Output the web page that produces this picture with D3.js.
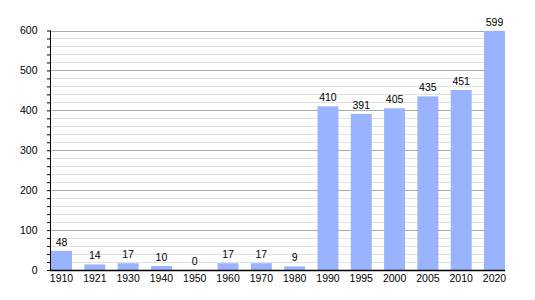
<!DOCTYPE html>
<html><head><meta charset="utf-8">
<script src="https://cdn.jsdelivr.net/npm/d3@7"></script>
<style>body{margin:0;background:#fff}svg{display:block}text{font-family:"Liberation Sans",Arial,sans-serif;fill:#000}</style>
</head><body><svg width="535" height="300"></svg>
<script>
const years = ["1910","1921","1930","1940","1950","1960","1970","1980","1990","1995","2000","2005","2010","2020"];
const population = [48,14,17,10,0,17,17,9,410,391,405,435,451,599];
const yTicks = [0,100,200,300,400,500,600];

(function(){
const svg = d3.select("svg");
const mL = 50, mR = 505, mT = 30.5, mB = 270;
const x = d3.scaleBand().domain(years).range([mL+1, mR]).paddingInner(0.37).paddingOuter(0);
const y = d3.scaleLinear().domain([0,600]).range([mB, mT]);

const minor = d3.range(20, 600, 20).filter(v => v % 100 !== 0);
svg.append("g").selectAll("line").data(minor).join("line")
  .attr("x1", mL).attr("x2", mR)
  .attr("y1", d => Math.round(y(d))+0.5).attr("y2", d => Math.round(y(d))+0.5)
  .attr("stroke", "#e0e0e0").attr("stroke-width", 1);
svg.append("g").selectAll("line").data(yTicks.slice(1)).join("line")
  .attr("x1", mL).attr("x2", mR)
  .attr("y1", d => Math.round(y(d))+0.5).attr("y2", d => Math.round(y(d))+0.5)
  .attr("stroke", "#aaaaaa").attr("stroke-width", 1);

svg.append("g").selectAll("rect").data(population).join("rect")
  .attr("x", (d,i) => x(years[i]))
  .attr("width", x.bandwidth())
  .attr("y", d => y(d))
  .attr("height", d => mB - y(d))
  .attr("fill", "#99b3ff");

svg.append("g").selectAll("text").data(population).join("text")
  .attr("x", (d,i) => x(years[i]) + x.bandwidth()/2)
  .attr("y", d => y(d) - 5)
  .attr("text-anchor", "middle")
  .attr("font-size", "10.5px")
  .text(d => d);

const yAxis = d3.axisLeft(y).tickValues(d3.range(0, 601, 20)).tickSize(3.5)
  .tickFormat(d => yTicks.includes(d) ? d : "");
const gy = svg.append("g").attr("transform", `translate(${mL+0.5},0)`).call(yAxis);
gy.select(".domain").attr("stroke", "#000").attr("d", `M0,${mT}V${mB}`);
gy.selectAll(".tick line").attr("stroke", "#000");
gy.selectAll(".tick text").attr("font-size", "10.5px").attr("font-family", "Liberation Sans, Arial, sans-serif").attr("x", -13).attr("fill", "#000");

const xAxis = d3.axisBottom(x).tickSize(0).tickPadding(4);
const gx = svg.append("g").attr("transform", `translate(0,${mB+0.5})`).call(xAxis);
gx.select(".domain").attr("stroke", "#000").attr("stroke-width", 1.3).attr("d", `M${mL},0H${mR}`);
gx.selectAll(".tick text").attr("font-size", "10.5px").attr("font-family", "Liberation Sans, Arial, sans-serif").attr("fill", "#000");
})();
</script></body></html>
